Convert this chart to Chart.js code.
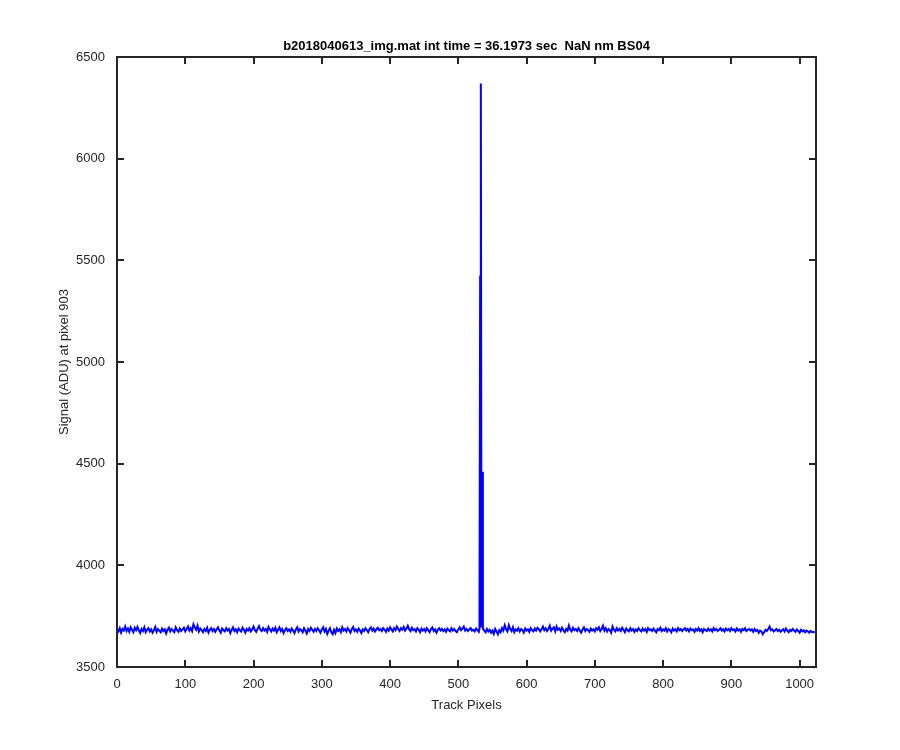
<!DOCTYPE html>
<html>
<head>
<meta charset="utf-8">
<script src="https://cdn.jsdelivr.net/npm/chart.js@4"></script>
<style>
  html, body { margin: 0; padding: 0; background: #fff; }
  #chart { display: block; }
</style>
</head>
<body>
<canvas id="chart" width="900" height="750"></canvas>
<script>
const chartTitle = 'b2018040613_img.mat int time = 36.1973 sec  NaN nm BS04';
const xLabel = 'Track Pixels';
const yLabel = 'Signal (ADU) at pixel 903';

// baseline, one value every 2 track pixels (0, 2, ... 1022)
const baseStep = 2;
const baseSignal = [
  3685,3675,3691,3669,3687,3679,3699,3677,3689,3673,3695,3683,3671,3693,3681,3697,
  3679,3667,3687,3677,3695,3671,3683,3691,3675,3685,3669,3681,3697,3673,3687,3679,
  3671,3689,3677,3685,3665,3683,3693,3675,3687,3679,3671,3695,3681,3673,3689,3677,
  3685,3693,3675,3687,3699,3679,3691,3677,3710,3695,3683,3703,3675,3689,3681,3671,
  3687,3677,3693,3669,3683,3691,3677,3687,3673,3685,3695,3679,3669,3689,3681,3675,
  3691,3679,3687,3667,3683,3695,3677,3685,3671,3689,3681,3675,3693,3683,3669,3687,
  3679,3691,3675,3685,3699,3681,3673,3689,3701,3683,3677,3691,3679,3687,3673,3697,
  3685,3675,3689,3679,3693,3671,3683,3695,3677,3687,3667,3681,3691,3677,3685,3673,
  3689,3679,3667,3685,3695,3675,3687,3681,3671,3691,3679,3665,3687,3677,3693,3683,
  3673,3687,3677,3691,3681,3669,3685,3695,3675,3687,3663,3679,3691,3671,3661,3683,
  3667,3689,3677,3685,3671,3695,3679,3687,3675,3691,3681,3669,3687,3697,3677,3685,
  3673,3689,3679,3667,3685,3677,3691,3681,3671,3687,3695,3679,3689,3675,3685,3693,
  3681,3687,3677,3691,3683,3673,3689,3679,3695,3685,3675,3691,3681,3699,3687,3677,
  3691,3683,3697,3679,3689,3703,3685,3677,3693,3681,3687,3675,3691,3683,3671,3689,
  3679,3687,3675,3691,3681,3671,3687,3695,3677,3685,3669,3683,3691,3679,3687,3677,
  3685,3673,3689,3681,3675,3691,3679,3687,3677,3671,3685,3695,3681,3689,3699,3679,
  3687,3677,3685,3691,3679,3683,3675,3689,3681,3673,3685,3677,3691,3679,3671,3687,
  3675,3683,3669,3679,3663,3687,3675,3661,3681,3671,3691,3679,3705,3685,3675,3706,
  3687,3677,3695,3671,3685,3679,3691,3675,3687,3681,3669,3689,3679,3685,3673,3691,
  3681,3675,3689,3679,3693,3685,3675,3687,3699,3681,3691,3677,3687,3703,3679,3689,
  3695,3675,3699,3683,3689,3677,3693,3681,3671,3687,3679,3704,3683,3675,3693,3681,
  3687,3677,3691,3679,3669,3685,3695,3677,3687,3681,3673,3689,3679,3685,3675,3691,
  3683,3695,3677,3687,3703,3679,3691,3675,3687,3681,3669,3699,3683,3675,3691,3679,
  3687,3677,3693,3683,3671,3689,3681,3675,3691,3679,3687,3673,3685,3677,3691,3681,
  3675,3689,3679,3687,3673,3691,3681,3685,3677,3689,3679,3671,3687,3681,3693,3677,
  3685,3679,3691,3675,3687,3681,3671,3689,3679,3685,3675,3691,3681,3687,3677,3685,
  3691,3679,3687,3675,3689,3681,3685,3673,3687,3679,3691,3677,3685,3671,3687,3681,
  3677,3689,3679,3685,3675,3691,3681,3687,3677,3683,3691,3679,3685,3675,3689,3681,
  3687,3677,3691,3681,3685,3675,3689,3679,3685,3673,3687,3681,3691,3677,3683,3687,
  3679,3685,3673,3687,3677,3683,3669,3679,3675,3661,3671,3683,3677,3687,3699,3681,
  3685,3675,3681,3687,3677,3683,3673,3679,3685,3675,3689,3679,3671,3683,3677,3687,
  3679,3673,3685,3677,3669,3683,3675,3681,3671,3679,3675,3669,3677,3671,3673,3669
];

// the hit around track pixel 533
const spikePixels = [531, 532, 533, 534, 535, 536];
const spikeSignal = [3688, 5420, 6370, 3694, 4460, 3690];

const xTicks = [0, 100, 200, 300, 400, 500, 600, 700, 800, 900, 1000];
const yTicks = [3500, 4000, 4500, 5000, 5500, 6000, 6500];
const xMin = 0, xMax = 1024;
const yMin = 3500, yMax = 6500;

function buildPoints() {
  const pts = baseSignal
    .map((v, i) => ({ x: i * baseStep, y: v }))
    .filter(p => spikePixels.indexOf(p.x) < 0);
  spikePixels.forEach((px, i) => pts.push({ x: px, y: spikeSignal[i] }));
  return pts.sort((a, b) => a.x - b.x);
}

const axisColor = '#262626';
const fontFamily = '"Liberation Sans", Arial, Helvetica, sans-serif';

// MATLAB style box with inward ticks on all four sides, plus the title
const boxPlugin = {
  id: 'matlabBox',
  afterDraw(chart) {
    const { ctx, chartArea: a, scales } = chart;
    const len = 7;
    ctx.save();
    ctx.strokeStyle = axisColor;
    ctx.lineWidth = 2;
    ctx.beginPath();
    xTicks.forEach(t => {
      const px = Math.round(scales.x.getPixelForValue(t));
      ctx.moveTo(px, a.bottom); ctx.lineTo(px, a.bottom - len);
      ctx.moveTo(px, a.top); ctx.lineTo(px, a.top + len);
    });
    yTicks.forEach(t => {
      const py = Math.round(scales.y.getPixelForValue(t));
      ctx.moveTo(a.left, py); ctx.lineTo(a.left + len, py);
      ctx.moveTo(a.right, py); ctx.lineTo(a.right - len, py);
    });
    ctx.stroke();
    ctx.strokeRect(a.left, a.top, a.right - a.left, a.bottom - a.top);

    ctx.fillStyle = '#000';
    ctx.font = 'bold 13px ' + fontFamily;
    ctx.textAlign = 'center';
    ctx.textBaseline = 'alphabetic';
    ctx.fillText(chartTitle, (a.left + a.right) / 2, 50);
    ctx.restore();
  }
};

const ctx = document.getElementById('chart').getContext('2d');
const chart = new Chart(ctx, {
  type: 'line',
  data: {
    datasets: [{
      data: buildPoints(),
      borderColor: '#0000ff',
      borderWidth: 2,
      pointRadius: 0,
      tension: 0,
      fill: false
    }]
  },
  options: {
    responsive: false,
    animation: false,
    layout: { padding: { left: 0, right: 84, top: 57, bottom: 0 } },
    plugins: {
      legend: { display: false },
      tooltip: { enabled: false },
      title: { display: false }
    },
    scales: {
      x: {
        type: 'linear',
        min: xMin,
        max: xMax,
        afterFit: s => { s.height = 83; },
        afterBuildTicks: s => { s.ticks = xTicks.map(v => ({ value: v })); },
        grid: { display: false, drawTicks: false },
        border: { display: false },
        ticks: {
          color: axisColor,
          padding: 10,
          maxRotation: 0,
          font: { family: fontFamily, size: 13 },
          callback: v => String(v)
        },
        title: {
          display: true,
          text: xLabel,
          color: axisColor,
          padding: { top: 0, bottom: 37 },
          font: { family: fontFamily, size: 13 }
        }
      },
      y: {
        type: 'linear',
        min: yMin,
        max: yMax,
        afterFit: s => { s.width = 117; },
        afterBuildTicks: s => { s.ticks = yTicks.map(v => ({ value: v })); },
        grid: { display: false, drawTicks: false },
        border: { display: false },
        ticks: {
          color: axisColor,
          padding: 12,
          font: { family: fontFamily, size: 13 },
          callback: v => String(v)
        },
        title: {
          display: true,
          text: yLabel,
          color: axisColor,
          padding: { top: 57, bottom: 0 },
          font: { family: fontFamily, size: 13 }
        }
      }
    }
  },
  plugins: [boxPlugin]
});
</script>
</body>
</html>
